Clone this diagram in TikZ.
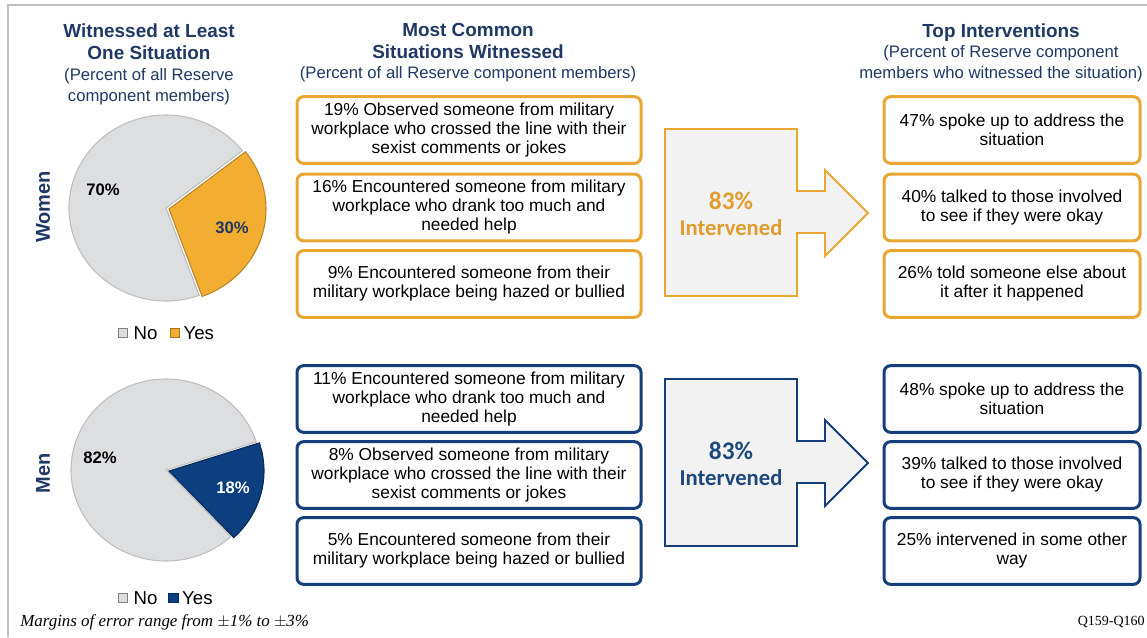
\documentclass[tikz,border=0pt]{standalone}
\usepackage{fontspec}
\setmainfont{Liberation Sans}
\newfontfamily\notefont{Liberation Serif}
\newfontfamily\calloutfont{Carlito}
\usetikzlibrary{positioning}
\definecolor{titleblue}{RGB}{31,56,100}
\definecolor{boxorange}{RGB}{234,166,50}
\definecolor{pieorange}{RGB}{243,174,50}
\definecolor{boxnavy}{RGB}{22,62,122}
\definecolor{pienavy}{RGB}{12,62,128}
\definecolor{piegray}{RGB}{221,222,224}
\definecolor{pieedge}{RGB}{190,190,192}
\definecolor{arrowfill}{RGB}{242,242,242}
\definecolor{frameline}{RGB}{191,191,191}
\definecolor{calloutorange}{RGB}{226,156,45}
\definecolor{calloutnavy}{RGB}{31,73,125}

\begin{document}
\begin{tikzpicture}[x=0.75pt, y=-0.75pt,
		colhead/.style={font=\fontsize{14.2}{16.5}\selectfont\bfseries, text=titleblue, align=center, inner sep=0pt},
		colsub/.style={font=\fontsize{12.5}{15.75}\selectfont, text=titleblue, align=center, inner sep=0pt},
		situation/.style={draw=#1, rounded corners=5pt, line width=2.25pt, fill=white, minimum width=258pt, minimum height=50pt, inner sep=0pt, align=center, font=\fontsize{13}{14.25}\selectfont},
		action/.style={situation=#1, minimum width=192pt},
		pct/.style={font=\fontsize{12.5}{14}\selectfont\bfseries, inner sep=0pt},
		group/.style={font=\fontsize{15}{16}\selectfont\bfseries, text=titleblue, rotate=90, inner sep=0pt},
		keybox/.style={draw=#1, minimum size=7pt, inner sep=0pt, line width=0.6pt},
		keytext/.style={font=\fontsize{14}{16}\selectfont, inner sep=0pt},
		callout/.style={line width=1.4pt, fill=arrowfill},
		intervened/.style={align=center, inner sep=0pt}
	]
	\useasboundingbox (0,0) rectangle (1147,637);
	\draw [frameline, line width=2pt] (8,637) -- (8,5) -- (1147,5);

	% column headings
	\node [colhead] (hpie) at (149,42) {Witnessed at Least\\One Situation};
	\node [colsub] (spie) at (149,87) {(Percent of all Reserve\\component members)};
	\node [colhead] (hsit) at (468,41) {Most Common\\Situations Witnessed};
	\node [colsub] (ssit) at (468,74) {(Percent of all Reserve component members)};
	\node [colhead] (hint) at (1001,33) {Top Interventions};
	\node [colsub] (sint) at (1001,64) {(Percent of Reserve component\\members who witnessed the situation)};

	% women pie
	\coordinate (wc) at (166,208);
	\fill [piegray, draw=pieedge, line width=0.8pt] (wc) -- ++(70:97 and 93) arc [start angle=70, end angle=322, x radius=97, y radius=93] -- cycle;
	\fill [pieorange, draw=boxorange!80!black, line width=0.8pt] (169,209) -- ++(-38:97 and 93) arc [start angle=-38, end angle=70, x radius=97, y radius=93] -- cycle;
	\node [pct] (w70) at (103,190) {70\%};
	\node [pct, text=titleblue] (w30) at (232,228) {30\%};
	\node [group] (women) at (43,207) {Women};
	\node [keybox=gray, fill=piegray] (wno) at (123,333) {};
	\node [keytext, right=4pt of wno] (wnot) {No};
	\node [keybox=boxorange!70!black, fill=pieorange, right=9pt of wnot] (wyes) {};
	\node [keytext, right=2.5pt of wyes] (wyest) {Yes};

	% men pie
	\coordinate (mc) at (166,470);
	\fill [piegray, draw=pieedge, line width=0.8pt] (mc) -- ++(47:95 and 91) arc [start angle=47, end angle=342, x radius=95, y radius=91] -- cycle;
	\fill [pienavy, draw=pienavy!70!black, line width=0.8pt] (169,471) -- ++(-18:95 and 91) arc [start angle=-18, end angle=47, x radius=95, y radius=91] -- cycle;
	\node [pct] (m82) at (100,458) {82\%};
	\node [pct, text=white] (m18) at (233,488) {18\%};
	\node [group] (men) at (43,473) {Men};
	\node [keybox=gray, fill=piegray] (mno) at (123,598) {};
	\node [keytext, right=4pt of mno] (mnot) {No};
	\node [keybox=pienavy!70!black, fill=pienavy, right=8pt of mnot] (myes) {};
	\node [keytext, right=2.5pt of myes] (myest) {Yes};

	% situations witnessed
	\node [situation=boxorange] (ws1) at (469,130) {19\% Observed someone from military\\workplace who crossed the line with their\\sexist comments or jokes};
	\node [situation=boxorange] (ws2) at (469,207.5) {16\% Encountered someone from military\\workplace who drank too much and\\needed help};
	\node [situation=boxorange] (ws3) at (469,284) {9\% Encountered someone from their\\military workplace being hazed or bullied};
	\node [situation=boxnavy] (ms1) at (469,399) {11\% Encountered someone from military\\workplace who drank too much and\\needed help};
	\node [situation=boxnavy] (ms2) at (469,475) {8\% Observed someone from military\\workplace who crossed the line with their\\sexist comments or jokes};
	\node [situation=boxnavy] (ms3) at (469,551) {5\% Encountered someone from their\\military workplace being hazed or bullied};

	% intervened arrows
	\foreach \dy/\col/\txt in {0/boxorange/calloutorange, 250/boxnavy/calloutnavy} {
		\begin{scope}[shift={(0,\dy)}]
			\draw [callout, draw=\col] (665,129) -- (797,129) -- (797,191) -- (825,191) -- (825,170) -- (868,213) -- (825,256) -- (825,233) -- (797,233) -- (797,296) -- (665,296) -- cycle;
			\node [intervened, text=\txt] at (731,214) {\calloutfont\bfseries\fontsize{19}{20}\selectfont 83\%\\[6pt]\calloutfont\bfseries\fontsize{17}{18}\selectfont Intervened};
		\end{scope}
	}

	% top interventions
	\node [action=boxorange] (wi1) at (1012,130) {47\% spoke up to address the\\situation};
	\node [action=boxorange] (wi2) at (1012,207.5) {40\% talked to those involved\\to see if they were okay};
	\node [action=boxorange] (wi3) at (1012,284) {26\% told someone else about\\it after it happened};
	\node [action=boxnavy] (mi1) at (1012,399) {48\% spoke up to address the\\situation};
	\node [action=boxnavy] (mi2) at (1012,475) {39\% talked to those involved\\to see if they were okay};
	\node [action=boxnavy] (mi3) at (1012,551) {25\% intervened in some other\\way};

	% notes
	\node [anchor=west, inner sep=0pt, font=\notefont\itshape\fontsize{12.7}{14}\selectfont] (margin) at (20,622) {Margins of error range from $\pm$1\% to $\pm$3\%};
	\node [anchor=east, inner sep=0pt, font=\notefont\fontsize{10.5}{12}\selectfont] (qref) at (1145,622) {Q159-Q160};
\end{tikzpicture}
\end{document}
